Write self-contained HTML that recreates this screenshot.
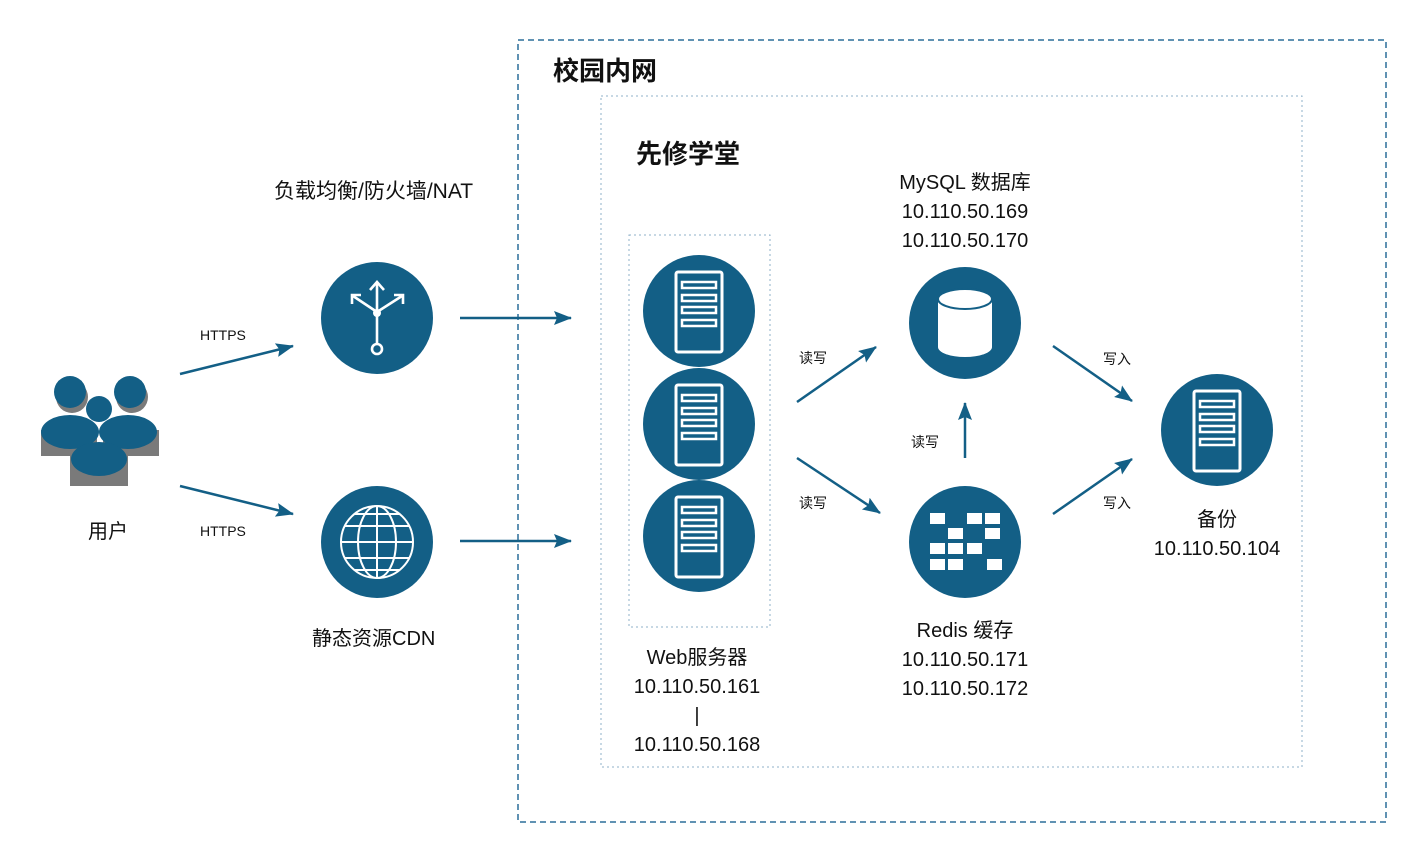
<!DOCTYPE html>
<html><head><meta charset="utf-8"><style>
html,body{margin:0;padding:0;background:#fff;width:1428px;height:858px;overflow:hidden}
svg{display:block}
text{font-family:"Liberation Sans","Noto Sans CJK SC",sans-serif;fill:#111}
</style></head><body>
<svg width="1428" height="858" viewBox="0 0 1428 858" xmlns="http://www.w3.org/2000/svg">
<defs>
<marker id="ah" markerWidth="18" markerHeight="14" refX="17" refY="7" orient="auto" markerUnits="userSpaceOnUse"><path d="M0,0 L18,7 L0,14 L3,7 z" fill="#135f86"/></marker>
<g id="srv">
<rect x="-23" y="-39" width="46" height="80" rx="2" fill="none" stroke="#fff" stroke-width="3"/>
<rect x="-17" y="-29" width="34" height="6" fill="none" stroke="#fff" stroke-width="2.5"/>
<rect x="-17" y="-16" width="34" height="6" fill="none" stroke="#fff" stroke-width="2.5"/>
<rect x="-17" y="-4" width="34" height="6" fill="none" stroke="#fff" stroke-width="2.5"/>
<rect x="-17" y="9" width="34" height="6" fill="none" stroke="#fff" stroke-width="2.5"/>
</g>
</defs>
<rect x="518" y="40" width="868" height="782" fill="none" stroke="#2c6e9a" stroke-width="1.5" stroke-dasharray="6,4"/>
<rect x="601" y="96" width="701" height="671" fill="none" stroke="#8fb0c8" stroke-width="1" stroke-dasharray="2,3"/>
<rect x="629" y="235" width="141" height="392" fill="none" stroke="#8fb0c8" stroke-width="1" stroke-dasharray="2,3"/>
<text x="553" y="80" font-size="26" font-weight="bold">校园内网</text>
<text x="636" y="163" font-size="26" font-weight="bold">先修学堂</text>
<g>
<g fill="#7a7a7a">
<circle cx="72" cy="397" r="16"/><circle cx="132" cy="397" r="16"/>
<rect x="41" y="430" width="56" height="26"/><rect x="103" y="430" width="56" height="26"/>
<rect x="70" y="455" width="58" height="31"/>
</g>
<g fill="#135f86">
<circle cx="70" cy="392" r="16"/><circle cx="130" cy="392" r="16"/>
<circle cx="99" cy="409" r="13"/>
<ellipse cx="70" cy="432" rx="29" ry="17"/><ellipse cx="128" cy="432" rx="29" ry="17"/>
<ellipse cx="99" cy="459" rx="28" ry="17"/>
</g>
</g>
<text x="88" y="538" font-size="20">用户</text>
<circle cx="377" cy="318" r="56" fill="#135f86"/>
<g stroke="#fff" stroke-width="2.6" fill="none">
<line x1="377" y1="343" x2="377" y2="312"/>
<line x1="377" y1="312" x2="377" y2="283"/>
<line x1="377" y1="312" x2="353" y2="296"/>
<line x1="377" y1="312" x2="402" y2="296"/>
<path d="M370,290 L377,282 L384,290"/>
<path d="M352,304 L352,295 L361,295"/>
<path d="M394,295 L403,295 L403,304"/>
<circle cx="377" cy="349" r="5"/>
</g>
<circle cx="377" cy="313" r="4" fill="#fff"/>
<text x="274" y="198" font-size="21">负载均衡/防火墙/NAT</text>
<circle cx="377" cy="542" r="56" fill="#135f86"/>
<g stroke="#fff" stroke-width="2" fill="none">
<circle cx="377" cy="542" r="36"/>
<ellipse cx="377" cy="542" rx="19" ry="36"/>
<line x1="377" y1="506" x2="377" y2="578"/>
<line x1="341" y1="542" x2="413" y2="542"/>
<line x1="345" y1="526" x2="409" y2="526"/><line x1="345" y1="558" x2="409" y2="558"/>
<line x1="354" y1="514" x2="400" y2="514"/><line x1="354" y1="570" x2="400" y2="570"/>
</g>
<text x="312" y="645" font-size="20">静态资源CDN</text>
<circle cx="699" cy="311" r="56" fill="#135f86"/><use href="#srv" x="699" y="311"/>
<circle cx="699" cy="424" r="56" fill="#135f86"/><use href="#srv" x="699" y="424"/>
<circle cx="699" cy="536" r="56" fill="#135f86"/><use href="#srv" x="699" y="536"/>
<g font-size="20" text-anchor="middle">
<text x="697" y="664">Web服务器</text>
<text x="697" y="693">10.110.50.161</text>
<text x="697" y="722">|</text>
<text x="697" y="751">10.110.50.168</text>
</g>
<circle cx="965" cy="323" r="56" fill="#135f86"/>
<path d="M938,299 L938,347 A27,10 0 0 0 992,347 L992,299 z" fill="#fff"/>
<ellipse cx="965" cy="299" rx="27" ry="10" fill="#fff" stroke="#135f86" stroke-width="2"/>
<g font-size="20" text-anchor="middle">
<text x="965" y="189">MySQL 数据库</text>
<text x="965" y="218">10.110.50.169</text>
<text x="965" y="247">10.110.50.170</text>
</g>
<circle cx="965" cy="542" r="56" fill="#135f86"/>
<g fill="#fff">
<rect x="930" y="513" width="15" height="11"/><rect x="967" y="513" width="15" height="11"/><rect x="985" y="513" width="15" height="11"/>
<rect x="948" y="528" width="15" height="11"/><rect x="985" y="528" width="15" height="11"/>
<rect x="930" y="543" width="15" height="11"/><rect x="948" y="543" width="15" height="11"/><rect x="967" y="543" width="15" height="11"/>
<rect x="930" y="559" width="15" height="11"/><rect x="948" y="559" width="15" height="11"/><rect x="987" y="559" width="15" height="11"/>
</g>
<g font-size="20" text-anchor="middle">
<text x="965" y="637">Redis 缓存</text>
<text x="965" y="666">10.110.50.171</text>
<text x="965" y="695">10.110.50.172</text>
</g>
<circle cx="1217" cy="430" r="56" fill="#135f86"/><use href="#srv" x="1217" y="430"/>
<g font-size="20" text-anchor="middle">
<text x="1217" y="526">备份</text>
<text x="1217" y="555">10.110.50.104</text>
</g>
<g stroke="#135f86" stroke-width="2.5" fill="none" marker-end="url(#ah)">
<line x1="180" y1="374" x2="293" y2="346"/>
<line x1="180" y1="486" x2="293" y2="514"/>
<line x1="460" y1="318" x2="571" y2="318"/>
<line x1="460" y1="541" x2="571" y2="541"/>
<line x1="797" y1="402" x2="876" y2="347"/>
<line x1="797" y1="458" x2="880" y2="513"/>
<line x1="965" y1="458" x2="965" y2="403"/>
<line x1="1053" y1="346" x2="1132" y2="401"/>
<line x1="1053" y1="514" x2="1132" y2="459"/>
</g>
<g font-size="14">
<text x="200" y="340">HTTPS</text>
<text x="200" y="536">HTTPS</text>
<text x="799" y="363">读写</text>
<text x="799" y="508">读写</text>
<text x="911" y="447">读写</text>
<text x="1103" y="364">写入</text>
<text x="1103" y="508">写入</text>
</g>
</svg>
</body></html>
